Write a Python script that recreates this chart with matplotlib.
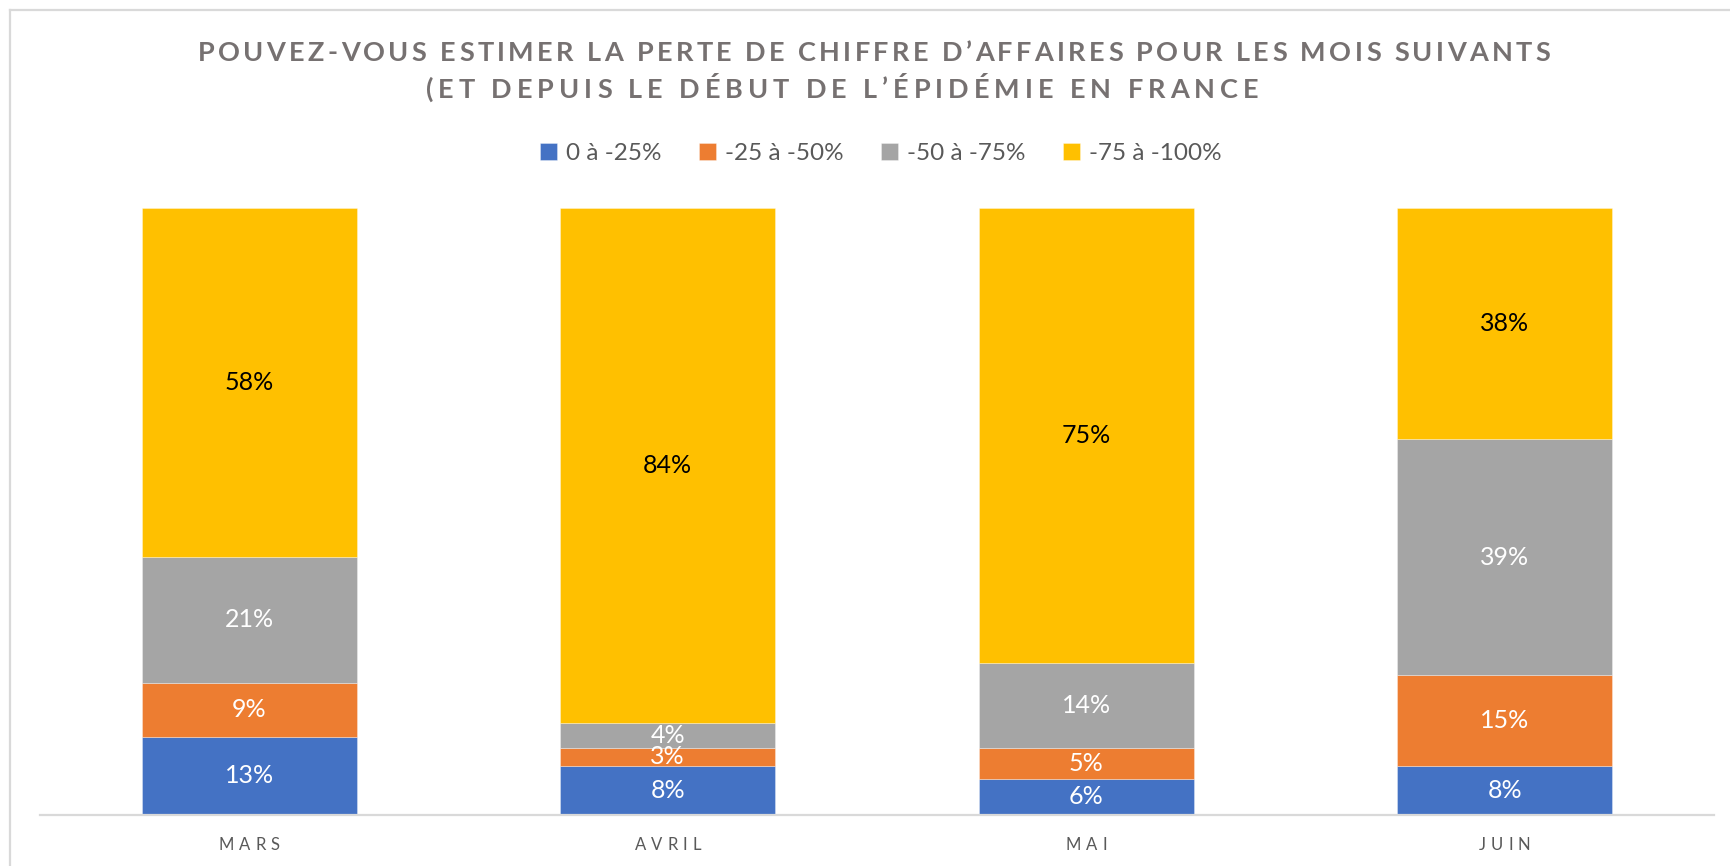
import matplotlib
matplotlib.use('Agg')
import matplotlib.pyplot as plt
import numpy as np
from matplotlib import font_manager
from matplotlib.ft2font import FT2Font
from matplotlib.lines import Line2D

months = ['MARS', 'AVRIL', 'MAI', 'JUIN']
series_names = ['0 à -25%', '-25 à -50%', '-50 à -75%', '-75 à -100%']
loss_0_25 = [13, 8, 6, 8]
loss_25_50 = [9, 3, 5, 15]
loss_50_75 = [21, 4, 14, 39]
loss_75_100 = [58, 84, 75, 38]

title_lines = ["POUVEZ-VOUS ESTIMER LA PERTE DE CHIFFRE D\u2019AFFAIRES POUR LES MOIS SUIVANTS",
               "(ET DEPUIS LE D\u00c9BUT DE L\u2019\u00c9PID\u00c9MIE EN FRANCE"]

colors = ['#4472C4', '#ED7D31', '#A5A5A5', '#FFC000']
label_colors = ['white', 'white', 'white', 'black']

W, H, DPI = 1730, 866, 100
plt.rcParams['font.family'] = ['Lato', 'DejaVu Sans']


def spaced_text(fig, s, cx, baseline, size, track, weight='normal', color='k'):
    # draw text letter by letter with extra tracking (pixel coords, from top)
    fp = font_manager.FontProperties(family='Lato', weight=weight, size=size)
    font = FT2Font(font_manager.findfont(fp))
    font.set_size(size, fig.dpi)
    adv = [font.load_char(ord(ch)).linearHoriAdvance / 65536 for ch in s]
    total = sum(adv) + track * (len(s) - 1)
    x = cx - total / 2
    for ch, a in zip(s, adv):
        if ch != ' ':
            fig.text(x / W, 1 - baseline / H, ch, fontproperties=fp,
                     color=color, ha='left', va='baseline')
        x += a + track


fig = plt.figure(figsize=(W / DPI, H / DPI), dpi=DPI)
ax = fig.add_axes([40 / W, (H - 815) / H, 1674 / W, (815 - 208) / H])

data = np.array([loss_0_25, loss_25_50, loss_50_75, loss_75_100], dtype=float)
totals = data.sum(axis=0)
shares = data / totals * 100
x = np.arange(len(months))
bottom = np.zeros(len(months))
for i, name in enumerate(series_names):
    bars = ax.bar(x, shares[i], 0.513, bottom=bottom, color=colors[i],
                  edgecolor=(1, 1, 1, 0.45), linewidth=0.5, label=name)
    ax.bar_label(bars, labels=[f'{int(v)}%' for v in data[i]],
                 label_type='center', color=label_colors[i], fontsize=18)
    bottom += shares[i]

ax.set_xlim(-0.5, 3.5)
ax.set_ylim(0, 100)
for side in ['top', 'left', 'right']:
    ax.spines[side].set_visible(False)
ax.spines['bottom'].set_color('#D9D9D9')
ax.spines['bottom'].set_linewidth(1.6)
ax.set_yticks([])
ax.set_xticks([])

for i, m in enumerate(months):
    cx = 40 + (x[i] + 0.5) / 4 * 1674
    spaced_text(fig, m, cx, 849.5, 12, 5.0, color='#595959')

spaced_text(fig, title_lines[0], 874, 61, 19.5, 3.35, weight='bold', color='#767171')
spaced_text(fig, title_lines[1], 842, 97.5, 19.5, 4.9, weight='bold', color='#767171')

leg = fig.legend(loc='center', bbox_to_anchor=(881 / W, 1 - 153.5 / H), ncol=4,
                 frameon=False, fontsize=17.5, handlelength=0.7, handleheight=0.7,
                 handletextpad=0.36, columnspacing=1.55, labelcolor='#595959')

# light border of the chart area
fig.add_artist(Line2D([10 / W, 10 / W], [0, 1 - 10 / H], color='#D9D9D9', lw=1.6))
fig.add_artist(Line2D([10 / W, 1], [1 - 10 / H, 1 - 10 / H], color='#D9D9D9', lw=1.6))

fig.savefig('out.png', dpi=DPI)
